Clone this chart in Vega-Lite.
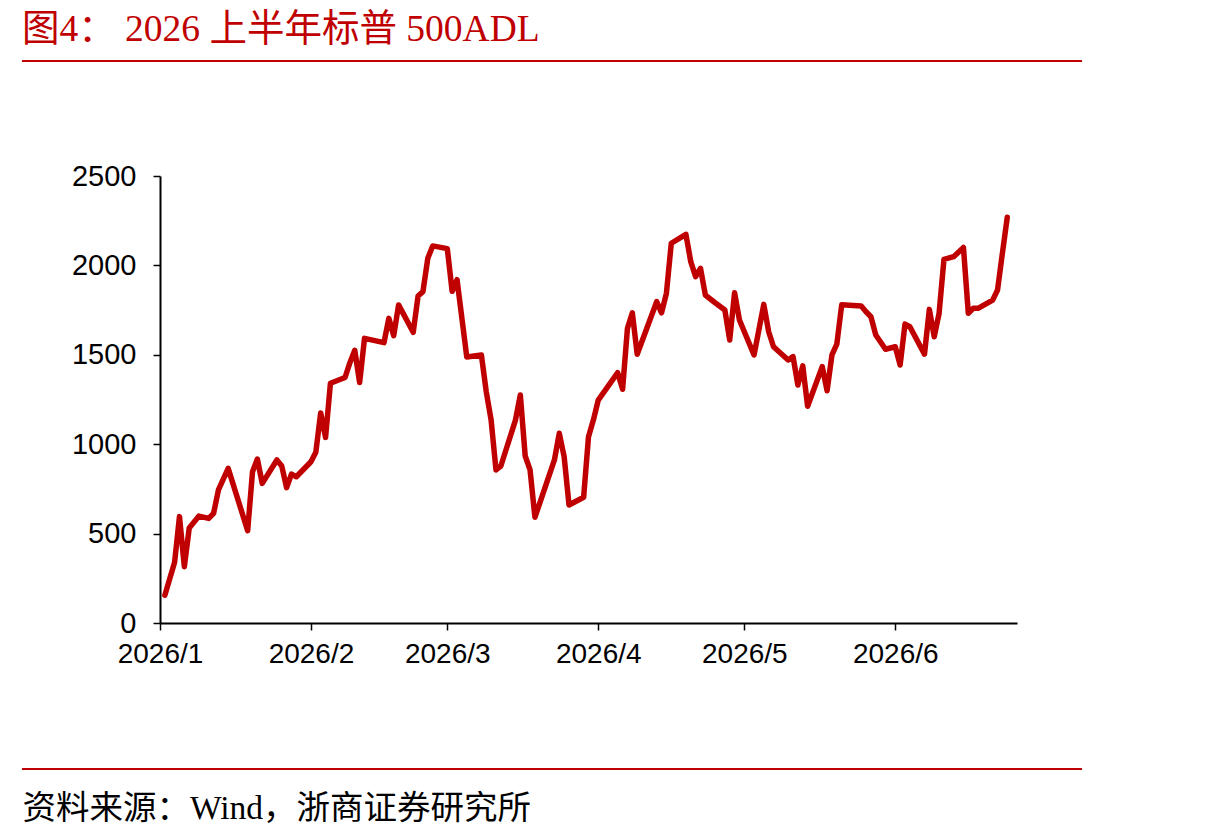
{
  "$schema": "https://vega.github.io/schema/vega-lite/v6.json",
  "width": 857,
  "height": 447,
  "autosize": {"type": "none"},
  "padding": {"left": 160, "top": 176, "right": 193, "bottom": 215},
  "background": "white",
  "config": {
    "view": {"stroke": null},
    "axis": {
      "domainColor": "#000000",
      "domainWidth": 2,
      "tickColor": "#000000",
      "tickWidth": 1.5,
      "tickSize": 7,
      "grid": false,
      "labelFont": "Liberation Sans",
      "labelFontSize": 28,
      "labelColor": "#000000"
    }
  },
  "title": {
    "text": "图4： 2026 上半年标普 500ADL",
    "anchor": "start",
    "frame": "group",
    "dx": -138,
    "offset": -18,
    "baseline": "alphabetic",
    "font": "Liberation Serif, Noto Sans CJK SC",
    "fontSize": 37.5,
    "fontWeight": "normal",
    "color": "#C00000"
  },
  "layer": [
    {
      "data": {
        "values": [
          {"date": "2026-01-02", "adl": 155},
          {"date": "2026-01-04", "adl": 340},
          {"date": "2026-01-05", "adl": 595},
          {"date": "2026-01-06", "adl": 315},
          {"date": "2026-01-07", "adl": 531},
          {"date": "2026-01-09", "adl": 598},
          {"date": "2026-01-11", "adl": 585},
          {"date": "2026-01-12", "adl": 613},
          {"date": "2026-01-13", "adl": 744},
          {"date": "2026-01-15", "adl": 865},
          {"date": "2026-01-19", "adl": 516},
          {"date": "2026-01-20", "adl": 846},
          {"date": "2026-01-21", "adl": 917},
          {"date": "2026-01-22", "adl": 781},
          {"date": "2026-01-25", "adl": 912},
          {"date": "2026-01-26", "adl": 878},
          {"date": "2026-01-27", "adl": 757},
          {"date": "2026-01-28", "adl": 833},
          {"date": "2026-01-29", "adl": 818},
          {"date": "2026-02-01", "adl": 902},
          {"date": "2026-02-02", "adl": 955},
          {"date": "2026-02-03", "adl": 1175},
          {"date": "2026-02-04", "adl": 1038},
          {"date": "2026-02-05", "adl": 1341},
          {"date": "2026-02-08", "adl": 1373},
          {"date": "2026-02-09", "adl": 1456},
          {"date": "2026-02-10", "adl": 1525},
          {"date": "2026-02-11", "adl": 1345},
          {"date": "2026-02-12", "adl": 1592},
          {"date": "2026-02-16", "adl": 1568},
          {"date": "2026-02-17", "adl": 1704},
          {"date": "2026-02-18", "adl": 1607},
          {"date": "2026-02-19", "adl": 1779},
          {"date": "2026-02-22", "adl": 1626},
          {"date": "2026-02-23", "adl": 1829},
          {"date": "2026-02-24", "adl": 1853},
          {"date": "2026-02-25", "adl": 2040},
          {"date": "2026-02-26", "adl": 2109},
          {"date": "2026-03-01", "adl": 2094},
          {"date": "2026-03-02", "adl": 1855},
          {"date": "2026-03-03", "adl": 1920},
          {"date": "2026-03-05", "adl": 1488},
          {"date": "2026-03-08", "adl": 1499},
          {"date": "2026-03-09", "adl": 1294},
          {"date": "2026-03-10", "adl": 1135},
          {"date": "2026-03-11", "adl": 856},
          {"date": "2026-03-12", "adl": 878},
          {"date": "2026-03-15", "adl": 1135},
          {"date": "2026-03-16", "adl": 1275},
          {"date": "2026-03-17", "adl": 934},
          {"date": "2026-03-18", "adl": 856},
          {"date": "2026-03-19", "adl": 591},
          {"date": "2026-03-23", "adl": 912},
          {"date": "2026-03-24", "adl": 1061},
          {"date": "2026-03-25", "adl": 930},
          {"date": "2026-03-26", "adl": 660},
          {"date": "2026-03-29", "adl": 703},
          {"date": "2026-03-30", "adl": 1042},
          {"date": "2026-03-31", "adl": 1135},
          {"date": "2026-04-01", "adl": 1247},
          {"date": "2026-04-05", "adl": 1400},
          {"date": "2026-04-06", "adl": 1307},
          {"date": "2026-04-07", "adl": 1648},
          {"date": "2026-04-08", "adl": 1735},
          {"date": "2026-04-09", "adl": 1503},
          {"date": "2026-04-13", "adl": 1797},
          {"date": "2026-04-14", "adl": 1735},
          {"date": "2026-04-15", "adl": 1844},
          {"date": "2026-04-16", "adl": 2124},
          {"date": "2026-04-19", "adl": 2174},
          {"date": "2026-04-20", "adl": 2021},
          {"date": "2026-04-21", "adl": 1937},
          {"date": "2026-04-22", "adl": 1984},
          {"date": "2026-04-23", "adl": 1834},
          {"date": "2026-04-25", "adl": 1791},
          {"date": "2026-04-27", "adl": 1751},
          {"date": "2026-04-28", "adl": 1583},
          {"date": "2026-04-29", "adl": 1847},
          {"date": "2026-04-30", "adl": 1695},
          {"date": "2026-05-03", "adl": 1499},
          {"date": "2026-05-05", "adl": 1782},
          {"date": "2026-05-06", "adl": 1629},
          {"date": "2026-05-07", "adl": 1545},
          {"date": "2026-05-10", "adl": 1471},
          {"date": "2026-05-11", "adl": 1490},
          {"date": "2026-05-12", "adl": 1331},
          {"date": "2026-05-13", "adl": 1438},
          {"date": "2026-05-14", "adl": 1212},
          {"date": "2026-05-17", "adl": 1434},
          {"date": "2026-05-18", "adl": 1299},
          {"date": "2026-05-19", "adl": 1499},
          {"date": "2026-05-20", "adl": 1560},
          {"date": "2026-05-21", "adl": 1780},
          {"date": "2026-05-25", "adl": 1773},
          {"date": "2026-05-26", "adl": 1741},
          {"date": "2026-05-27", "adl": 1713},
          {"date": "2026-05-28", "adl": 1611},
          {"date": "2026-05-30", "adl": 1531},
          {"date": "2026-06-01", "adl": 1545},
          {"date": "2026-06-02", "adl": 1443},
          {"date": "2026-06-03", "adl": 1672},
          {"date": "2026-06-04", "adl": 1657},
          {"date": "2026-06-07", "adl": 1504},
          {"date": "2026-06-08", "adl": 1754},
          {"date": "2026-06-09", "adl": 1601},
          {"date": "2026-06-10", "adl": 1732},
          {"date": "2026-06-11", "adl": 2034},
          {"date": "2026-06-13", "adl": 2049},
          {"date": "2026-06-15", "adl": 2100},
          {"date": "2026-06-16", "adl": 1732},
          {"date": "2026-06-17", "adl": 1760},
          {"date": "2026-06-18", "adl": 1760},
          {"date": "2026-06-21", "adl": 1806},
          {"date": "2026-06-22", "adl": 1862},
          {"date": "2026-06-23", "adl": 2068},
          {"date": "2026-06-24", "adl": 2269}
        ]
      },
      "mark": {
        "type": "line",
        "color": "#C00000",
        "strokeWidth": 5.5,
        "strokeJoin": "round",
        "strokeCap": "round"
      },
      "encoding": {
        "x": {
          "field": "date",
          "type": "temporal",
          "scale": {
            "type": "utc",
            "domain": [
              {"year": 2026, "month": 1, "date": 1, "utc": true},
              {"year": 2026, "month": 6, "date": 26, "utc": true}
            ]
          },
          "axis": {
            "values": [
              {"year": 2026, "month": 1, "date": 1, "utc": true},
              {"year": 2026, "month": 2, "date": 1, "utc": true},
              {"year": 2026, "month": 3, "date": 1, "utc": true},
              {"year": 2026, "month": 4, "date": 1, "utc": true},
              {"year": 2026, "month": 5, "date": 1, "utc": true},
              {"year": 2026, "month": 6, "date": 1, "utc": true}
            ],
            "format": "%Y/%-m",
            "labelPadding": 10,
            "labelFlush": false,
            "labelOverlap": false,
            "title": "资料来源：Wind，浙商证券研究所",
            "titleX": -138,
            "titleY": 195,
            "titleAlign": "left",
            "titleBaseline": "alphabetic",
            "titleFont": "Liberation Serif, Noto Sans CJK SC",
            "titleFontSize": 33.5,
            "titleFontWeight": "normal",
            "titleColor": "#000000"
          }
        },
        "y": {
          "field": "adl",
          "type": "quantitative",
          "scale": {"domain": [0, 2500], "nice": false},
          "axis": {
            "values": [0, 500, 1000, 1500, 2000, 2500],
            "format": "d",
            "labelFontSize": 29,
            "labelPadding": 17,
            "title": null
          }
        }
      }
    },
    {
      "data": {"values": [{"edge": "top"}]},
      "mark": {"type": "rule", "color": "#C00000", "strokeWidth": 2},
      "encoding": {
        "x": {"value": -138},
        "x2": {"value": 922},
        "y": {"value": -115}
      }
    },
    {
      "data": {"values": [{"edge": "bottom"}]},
      "mark": {"type": "rule", "color": "#C00000", "strokeWidth": 2},
      "encoding": {
        "x": {"value": -138},
        "x2": {"value": 922},
        "y": {"value": 593}
      }
    }
  ]
}
